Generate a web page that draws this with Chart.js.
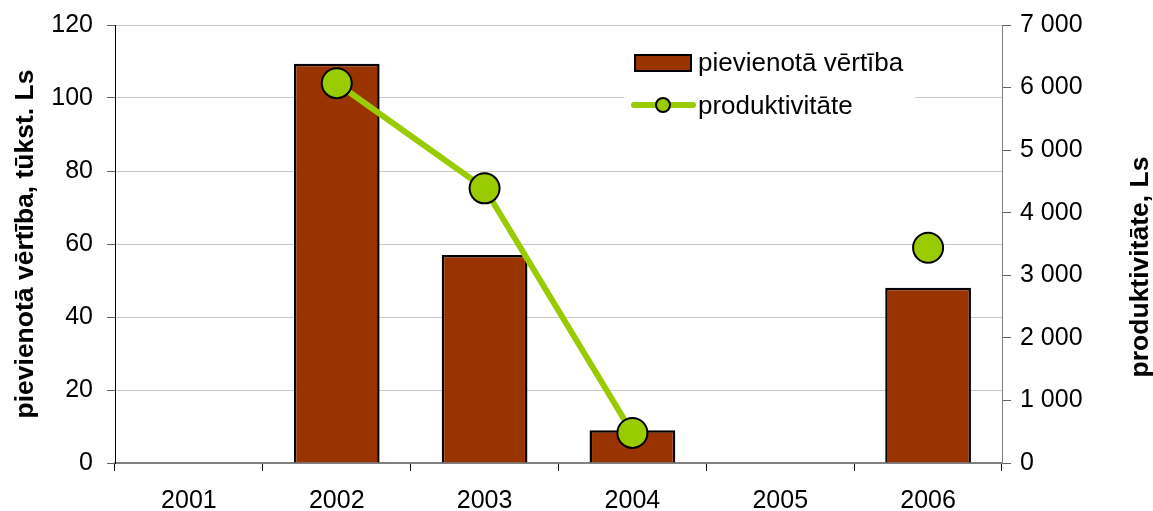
<!DOCTYPE html>
<html>
<head>
<meta charset="utf-8">
<script src="https://cdn.jsdelivr.net/npm/chart.js@4"></script>
<style>
  body { margin: 0; background: #fff; }
  #wrap { width: 1153px; height: 511px; }
</style>
</head>
<body>
<div id="wrap"><canvas id="grafico" width="1153" height="511"></canvas></div>
<script>
// dati
const gadi = ['2001', '2002', '2003', '2004', '2005', '2006'];
const pievienotaVertiba = [null, 109.4, 57, 9, null, 48];      // tūkst. Ls
const produktivitate = [null, 6070, 4390, 480, null, 3440];   // Ls
const kreisieTiki = [0, 20, 40, 60, 80, 100, 120];
const labieTiki = [0, 1000, 2000, 3000, 4000, 5000, 6000, 7000];

const FONTS = '"Liberation Sans", Arial, sans-serif';
const BRUNS = '#993300';
const ZALS = '#99cc00';

function tukstosi(v) {
  return String(v).replace(/\B(?=(\d{3})+(?!\d))/g, ' ');
}

// fiksēts ass platums, bez papildu atkāpēm augšā/apakšā
function fiksetPlatumu(w) {
  return s => {
    s.width = w;
    s.paddingTop = 0;
    s.paddingBottom = 0;
  };
}

// labās ass virsraksts (lasāms no apakšas uz augšu) un leģenda
const zimejumi = {
  id: 'zimejumi',
  beforeDatasetsDraw(chart) {
    const ctx = chart.ctx;
    ctx.save();
    // leģendas fons
    ctx.fillStyle = '#fff';
    ctx.fillRect(624, 42, 291, 84);

    // stabiņa paraugs
    ctx.fillStyle = BRUNS;
    ctx.fillRect(635, 55, 56, 16);
    ctx.strokeStyle = '#000';
    ctx.lineWidth = 2;
    ctx.strokeRect(635, 55, 56, 16);

    // līnijas paraugs
    ctx.strokeStyle = ZALS;
    ctx.lineWidth = 6;
    ctx.lineCap = 'round';
    ctx.beginPath();
    ctx.moveTo(634, 105);
    ctx.lineTo(693, 105);
    ctx.stroke();
    ctx.beginPath();
    ctx.arc(663, 105, 7, 0, Math.PI * 2);
    ctx.fillStyle = ZALS;
    ctx.fill();
    ctx.lineWidth = 2;
    ctx.strokeStyle = '#000';
    ctx.stroke();

    ctx.fillStyle = '#000';
    ctx.font = '26px ' + FONTS;
    ctx.textAlign = 'left';
    ctx.textBaseline = 'middle';
    ctx.fillText(chart.data.datasets[1].label, 698, 64);
    ctx.fillText(chart.data.datasets[0].label, 698, 107);

    // labās ass virsraksts
    ctx.translate(1141, 267);
    ctx.rotate(-Math.PI / 2);
    ctx.font = 'bold 26.5px ' + FONTS;
    ctx.textAlign = 'center';
    ctx.fillText('produktivitāte, Ls', 0, 0);
    ctx.restore();
  }
};

new Chart(document.getElementById('grafico'), {
  data: {
    labels: gadi,
    datasets: [{
      type: 'line',
      label: 'produktivitāte',
      data: produktivitate,
      yAxisID: 'y1',
      order: 0,
      borderColor: ZALS,
      borderWidth: 6,
      pointRadius: 15,
      pointBackgroundColor: ZALS,
      pointBorderColor: '#000',
      pointBorderWidth: 2,
      spanGaps: false,
      tension: 0
    }, {
      type: 'bar',
      label: 'pievienotā vērtība',
      data: pievienotaVertiba,
      yAxisID: 'y',
      order: 1,
      backgroundColor: BRUNS,
      borderColor: '#000',
      borderWidth: 2.5,
      borderSkipped: 'bottom',
      categoryPercentage: 1,
      barPercentage: 0.58
    }]
  },
  plugins: [zimejumi],
  options: {
    responsive: false,
    animation: false,
    layout: { padding: { top: 25, left: 0, right: 0, bottom: 0 } },
    plugins: {
      legend: { display: false },
      tooltip: { enabled: false }
    },
    scales: {
      x: {
        offset: true,
        afterFit(s) { s.height = 48; s.paddingLeft = 0; s.paddingRight = 0; },
        grid: {
          offset: true,
          drawOnChartArea: false,
          tickLength: 8,
          tickColor: '#000',
          tickWidth: 1
        },
        border: { color: '#808080', width: 2 },
        ticks: { color: '#000', font: { family: FONTS, size: 25 }, padding: 15, maxRotation: 0 }
      },
      y: {
        position: 'left',
        min: 0,
        max: 120,
        afterFit: fiksetPlatumu(115),
        afterBuildTicks(s) { s.ticks = kreisieTiki.map(v => ({ value: v })); },
        grid: { color: '#c8c8c8', tickColor: '#606060', tickLength: 8, lineWidth: 1 },
        border: { color: '#000', width: 1 },
        ticks: { color: '#000', font: { family: FONTS, size: 25 }, padding: 14 },
        title: {
          display: true,
          text: 'pievienotā vērtība, tūkst. Ls',
          color: '#000',
          font: { family: FONTS, size: 26.5, weight: 'bold' },
          padding: { top: 10, bottom: 0 }
        }
      },
      y1: {
        position: 'right',
        min: 0,
        max: 7000,
        afterFit: fiksetPlatumu(151),
        afterBuildTicks(s) { s.ticks = labieTiki.map(v => ({ value: v })); },
        grid: { drawOnChartArea: false, tickColor: '#606060', tickLength: 9 },
        border: { color: '#808080', width: 1 },
        ticks: {
          color: '#000',
          font: { family: FONTS, size: 25 },
          padding: 9,
          callback: v => tukstosi(v)
        }
      }
    }
  }
});
</script>
</body>
</html>
